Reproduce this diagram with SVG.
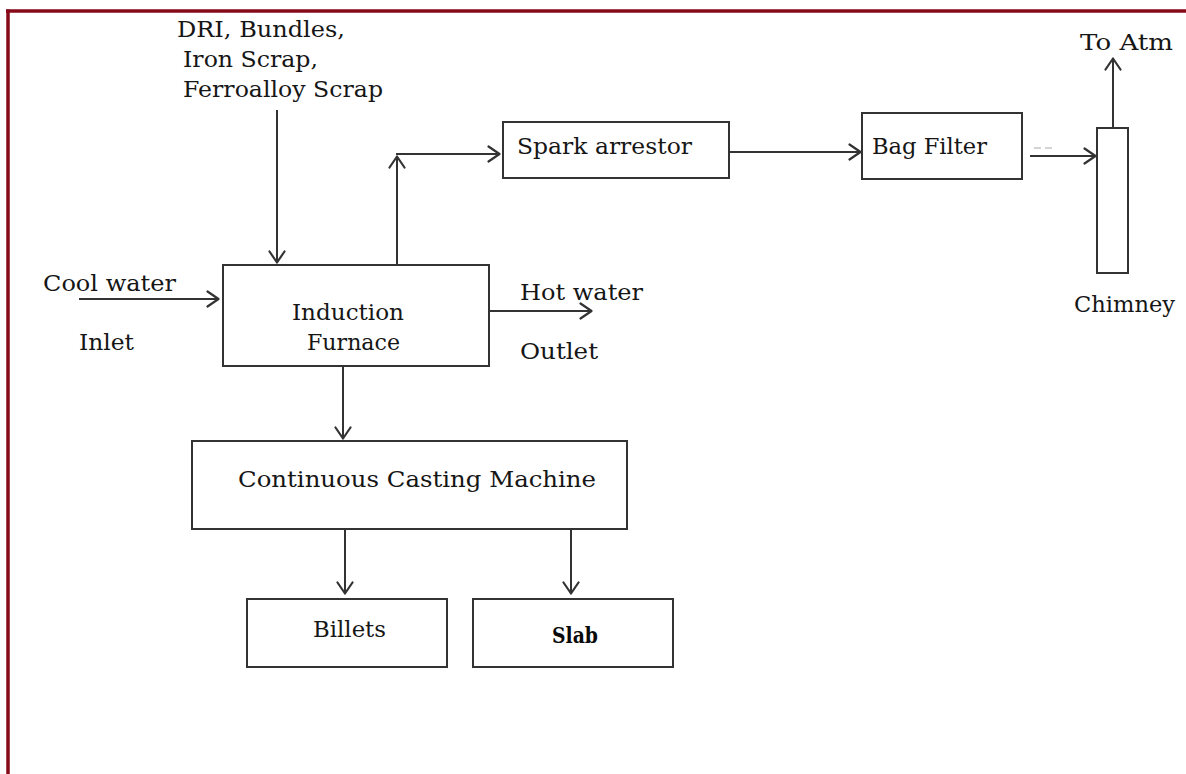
<svg xmlns="http://www.w3.org/2000/svg" width="1186" height="774" viewBox="0 0 1186 774">
  <defs>
    <style>
      .box { fill: #ffffff; stroke: #333333; stroke-width: 2; }
      .ln { fill: none; stroke: #333333; stroke-width: 2; }
      .t { font-family: "DejaVu Serif", "Liberation Serif", serif; font-size: 22px; fill: #161616; }
      .tb { font-family: "DejaVu Serif", "Liberation Serif", serif; font-size: 22px; font-weight: bold; fill: #0a0a0a; }
      .frame { fill: none; stroke: #870a1a; stroke-width: 3.5; }
    </style>
    <marker id="arr" viewBox="0 0 14 18" refX="13" refY="9" markerWidth="14" markerHeight="18" markerUnits="userSpaceOnUse" orient="auto">
      <path d="M1.5,1.5 L12.5,9 L1.5,16.5" fill="none" stroke="#333333" stroke-width="2.2" stroke-linecap="round" stroke-linejoin="round"/>
    </marker>
  </defs>
  <rect x="0" y="0" width="1186" height="774" fill="#ffffff"/>
  <g id="frame">
    <line class="frame" x1="6" y1="11" x2="1186" y2="11"/>
    <line class="frame" x1="8" y1="9.5" x2="8" y2="774"/>
  </g>

  <g id="connectors">
    <line class="ln" x1="277" y1="110" x2="277" y2="263" marker-end="url(#arr)"/>
    <line class="ln" x1="79" y1="299" x2="219" y2="299" marker-end="url(#arr)"/>
    <line class="ln" x1="489" y1="311" x2="592" y2="311" marker-end="url(#arr)"/>
    <line class="ln" x1="397" y1="265" x2="397" y2="156" marker-end="url(#arr)"/>
    <line class="ln" x1="396" y1="154" x2="500" y2="154" marker-end="url(#arr)"/>
    <line class="ln" x1="723" y1="152" x2="861" y2="152" marker-end="url(#arr)"/>
    <line class="ln" x1="1030" y1="156" x2="1096" y2="156" marker-end="url(#arr)"/>
    <line x1="1034" y1="148" x2="1052" y2="148" stroke="#aaaaaa" stroke-width="1" stroke-dasharray="7,4"/>
    <line class="ln" x1="1113" y1="128" x2="1113" y2="58" marker-end="url(#arr)"/>
    <line class="ln" x1="343" y1="366" x2="343" y2="439" marker-end="url(#arr)"/>
    <line class="ln" x1="345" y1="529" x2="345" y2="594" marker-end="url(#arr)"/>
    <line class="ln" x1="571" y1="529" x2="571" y2="594" marker-end="url(#arr)"/>
  </g>

  <g id="labels">
    <text class="t" x="177" y="37" textLength="168" lengthAdjust="spacingAndGlyphs">DRI, Bundles,</text>
    <text class="t" x="183" y="67" textLength="135" lengthAdjust="spacingAndGlyphs">Iron Scrap,</text>
    <text class="t" x="183" y="97" textLength="200" lengthAdjust="spacingAndGlyphs">Ferroalloy Scrap</text>
    <text class="t" x="43" y="291" textLength="133" lengthAdjust="spacingAndGlyphs">Cool water</text>
    <text class="t" x="79" y="350" textLength="55" lengthAdjust="spacingAndGlyphs">Inlet</text>
    <text class="t" x="520" y="300" textLength="123" lengthAdjust="spacingAndGlyphs">Hot water</text>
    <text class="t" x="520" y="359" textLength="78" lengthAdjust="spacingAndGlyphs">Outlet</text>
    <text class="t" x="1080" y="50" textLength="93" lengthAdjust="spacingAndGlyphs">To Atm</text>
    <text class="t" x="1074" y="312" textLength="101" lengthAdjust="spacingAndGlyphs">Chimney</text>
  </g>

  <g id="induction-furnace">
    <rect class="box" x="223" y="265" width="266" height="101"/>
    <text class="t" x="292" y="320" textLength="112" lengthAdjust="spacingAndGlyphs">Induction</text>
    <text class="t" x="307" y="350" textLength="93" lengthAdjust="spacingAndGlyphs">Furnace</text>
  </g>

  <g id="spark-arrestor">
    <rect class="box" x="503" y="122" width="226" height="56"/>
    <text class="t" x="517" y="154" textLength="175" lengthAdjust="spacingAndGlyphs">Spark arrestor</text>
  </g>

  <g id="bag-filter">
    <rect class="box" x="862" y="113" width="160" height="66"/>
    <text class="t" x="872" y="154" textLength="115" lengthAdjust="spacingAndGlyphs">Bag Filter</text>
  </g>

  <g id="chimney">
    <rect class="box" x="1097" y="128" width="31" height="145"/>
  </g>

  <g id="continuous-casting-machine">
    <rect class="box" x="192" y="441" width="435" height="88"/>
    <text class="t" x="238" y="487" textLength="358" lengthAdjust="spacingAndGlyphs">Continuous Casting Machine</text>
  </g>

  <g id="billets">
    <rect class="box" x="247" y="599" width="200" height="68"/>
    <text class="t" x="313" y="637" textLength="73" lengthAdjust="spacingAndGlyphs">Billets</text>
  </g>

  <g id="slab">
    <rect class="box" x="473" y="599" width="200" height="68"/>
    <text class="tb" x="552" y="643" textLength="46" lengthAdjust="spacingAndGlyphs">Slab</text>
  </g>
</svg>
